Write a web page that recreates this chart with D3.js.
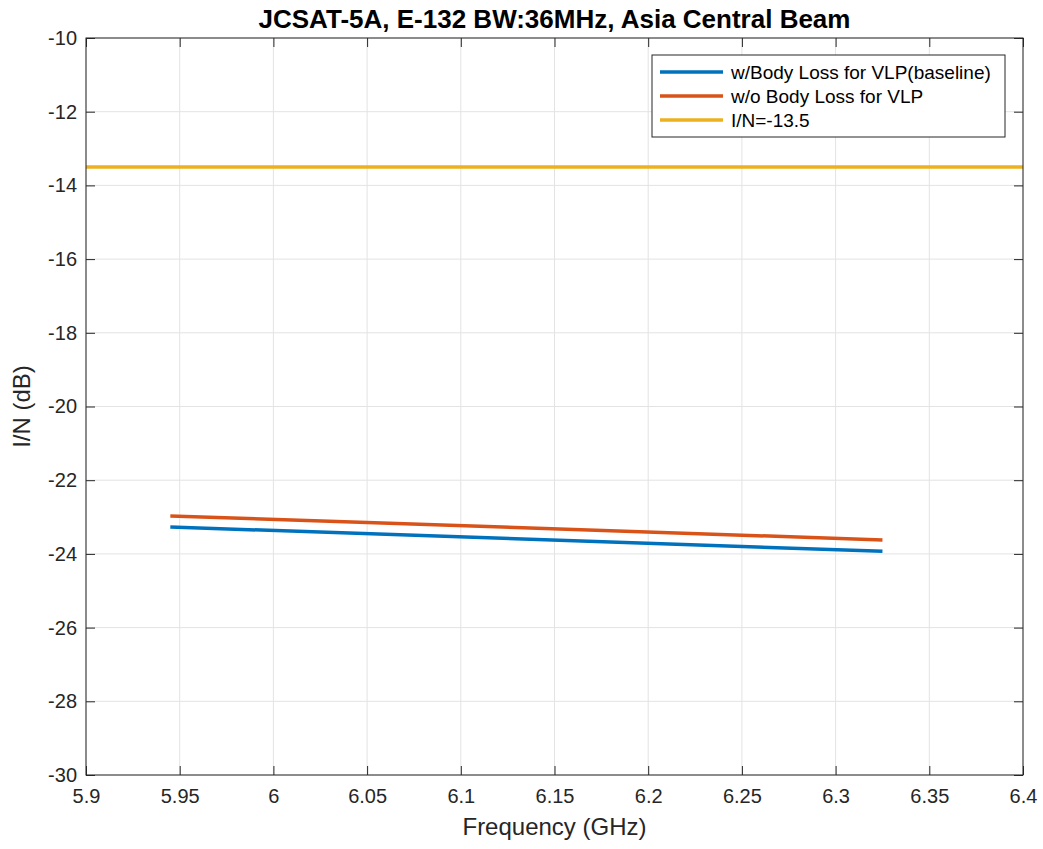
<!DOCTYPE html>
<html><head><meta charset="utf-8">
<script src="https://cdn.jsdelivr.net/npm/d3@7"></script>
<style>body{margin:0;background:#fff}svg{display:block;font-family:"Liberation Sans",Arial,Helvetica,sans-serif}</style>
</head><body><svg id="c" width="1043" height="849"></svg>
<script>
const title = "JCSAT-5A, E-132 BW:36MHz, Asia Central Beam";
const xLabel = "Frequency (GHz)";
const yLabel = "I/N (dB)";
const xTicks = [5.9, 5.95, 6, 6.05, 6.1, 6.15, 6.2, 6.25, 6.3, 6.35, 6.4];
const yTicks = [-10, -12, -14, -16, -18, -20, -22, -24, -26, -28, -30];
const freqs = [5.945, 6.325];
const withBodyLoss = [-23.27, -23.93];
const withoutBodyLoss = [-22.97, -23.62];
const thresholdFreqs = [5.9, 6.4];
const thresholdVals = [-13.5, -13.5];
const seriesNames = ["w/Body Loss for VLP(baseline)", "w/o Body Loss for VLP", "I/N=-13.5"];
const seriesColors = ["#0072BD", "#D95319", "#EDB120"];

const svg = d3.select("#c");
const m = {l: 86, r: 1023, t: 38, b: 775};
const x = d3.scaleLinear().domain([5.9, 6.4]).range([m.l, m.r]);
const y = d3.scaleLinear().domain([-30, -10]).range([m.b, m.t]);

// grid
const g = svg.append("g");
g.selectAll(".gx").data(xTicks).enter().append("line")
  .attr("x1", d => x(d)).attr("x2", d => x(d)).attr("y1", m.t).attr("y2", m.b)
  .attr("stroke", "#e3e3e3").attr("stroke-width", 1);
g.selectAll(".gy").data(yTicks).enter().append("line")
  .attr("y1", d => y(d)).attr("y2", d => y(d)).attr("x1", m.l).attr("x2", m.r)
  .attr("stroke", "#e3e3e3").attr("stroke-width", 1);

// data lines
const line = d3.line().x(d => x(d[0])).y(d => y(d[1]));
const series = [
  d3.zip(freqs, withBodyLoss),
  d3.zip(freqs, withoutBodyLoss),
  d3.zip(thresholdFreqs, thresholdVals)
];
series.forEach((s, i) => {
  svg.append("path").attr("d", line(s)).attr("fill", "none")
    .attr("stroke", seriesColors[i]).attr("stroke-width", 3.5);
});

// axes
const tl = 9;
const fmt = d => String(d);
svg.append("g").attr("transform", `translate(0,${m.b})`)
  .call(d3.axisBottom(x).tickValues(xTicks).tickFormat(fmt).tickSizeInner(-tl).tickSizeOuter(0).tickPadding(14))
  .call(a => { a.select(".domain").remove(); a.selectAll("text").attr("font-size", 20).attr("fill", "#262626"); a.selectAll("line").attr("stroke", "#262626"); });
svg.append("g").attr("transform", `translate(0,${m.t})`)
  .call(d3.axisTop(x).tickValues(xTicks).tickFormat("").tickSizeInner(-tl).tickSizeOuter(0))
  .call(a => { a.select(".domain").remove(); a.selectAll("line").attr("stroke", "#262626"); });
svg.append("g").attr("transform", `translate(${m.l},0)`)
  .call(d3.axisLeft(y).tickValues(yTicks).tickFormat(fmt).tickSizeInner(-tl).tickSizeOuter(0).tickPadding(9))
  .call(a => { a.select(".domain").remove(); a.selectAll("text").attr("font-size", 20).attr("fill", "#262626"); a.selectAll("line").attr("stroke", "#262626"); });
svg.append("g").attr("transform", `translate(${m.r},0)`)
  .call(d3.axisRight(y).tickValues(yTicks).tickFormat("").tickSizeInner(-tl).tickSizeOuter(0))
  .call(a => { a.select(".domain").remove(); a.selectAll("line").attr("stroke", "#262626"); });
svg.append("rect").attr("x", m.l).attr("y", m.t).attr("width", m.r - m.l).attr("height", m.b - m.t)
  .attr("fill", "none").attr("stroke", "#262626").attr("stroke-width", 1);

// labels
svg.append("text").attr("x", (m.l + m.r) / 2).attr("y", 28).attr("text-anchor", "middle")
  .attr("font-size", 26).attr("font-weight", "bold").attr("fill", "#000").text(title);
svg.append("text").attr("x", (m.l + m.r) / 2).attr("y", 835).attr("text-anchor", "middle")
  .attr("font-size", 24).attr("fill", "#262626").text(xLabel);
svg.append("text").attr("transform", `translate(30,${(m.t + m.b) / 2}) rotate(-90)`).attr("text-anchor", "middle")
  .attr("font-size", 24).attr("fill", "#262626").text(yLabel);

// legend
const lg = svg.append("g");
lg.append("rect").attr("x", 652).attr("y", 55).attr("width", 353).attr("height", 82)
  .attr("fill", "#fff").attr("stroke", "#262626").attr("stroke-width", 1);
seriesNames.forEach((n, i) => {
  const yy = 72 + i * 24;
  lg.append("line").attr("x1", 660).attr("x2", 723).attr("y1", yy).attr("y2", yy)
    .attr("stroke", seriesColors[i]).attr("stroke-width", 3.5);
  lg.append("text").attr("x", 731).attr("y", yy + 7).attr("font-size", 19).attr("fill", "#000").text(n);
});
</script></body></html>
